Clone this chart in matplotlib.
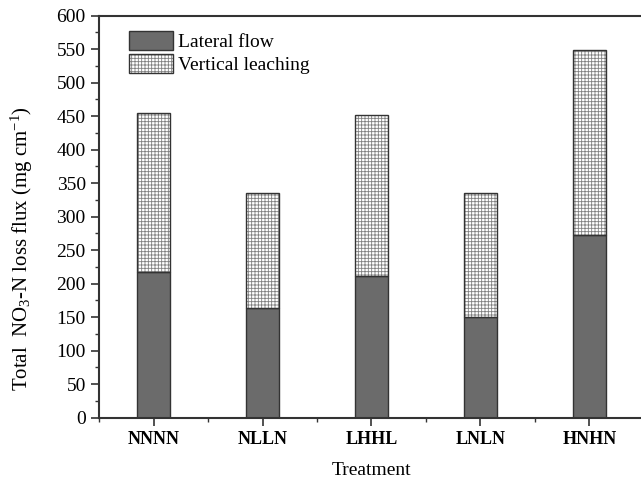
import numpy as np
import matplotlib
matplotlib.use("Agg")
import matplotlib.pyplot as plt
from matplotlib.patches import Patch

treatments = ["NNNN", "NLLN", "LHHL", "LNLN", "HNHN"]
lateral = [217, 163, 211, 150, 272]
vertical = [238, 173, 240, 185, 277]

plt.rcParams['font.family'] = ['Liberation Serif', 'DejaVu Serif']
plt.rcParams['mathtext.fontset'] = 'custom'
plt.rcParams['mathtext.rm'] = 'Liberation Serif'
plt.rcParams['mathtext.it'] = 'Liberation Serif:italic'
plt.rcParams['hatch.linewidth'] = 0.6

fig = plt.figure(figsize=(6.41, 4.83), dpi=100)
ax = fig.add_axes([99/641, 1 - 417.7/483, 545/641, (417.7 - 15.6)/483])

x = np.arange(1, len(treatments) + 1)
w = 0.30

ax.bar(x, lateral, w, color='#6b6b6b', edgecolor='#333333', linewidth=1.0,
       label='Lateral flow', zorder=2)
ax.bar(x, vertical, w, bottom=lateral, color='white', edgecolor='#808080',
       hatch='+++++', linewidth=0, zorder=2)
ax.bar(x, vertical, w, bottom=lateral, fill=False, edgecolor='#333333',
       linewidth=1.0, zorder=3)

# legend patches
h1 = Patch(facecolor='#6b6b6b', edgecolor='#333333', linewidth=1.0)
h2 = Patch(facecolor='white', edgecolor='#808080', hatch='+++++', linewidth=0)
h2b = Patch(fill=False, edgecolor='#333333', linewidth=1.0)
ax.legend([h1, (h2, h2b)], ['Lateral flow', 'Vertical leaching'],
          loc='upper left', bbox_to_anchor=(0.055, 0.962), frameon=False,
          fontsize=14, handlelength=2.27, handleheight=1.13,
          handletextpad=0.25, labelspacing=0.15, borderaxespad=0, borderpad=0)

ax.set_xlim(0.5, 5.5)
ax.set_ylim(0, 600)
ax.set_yticks(np.arange(0, 601, 50))
ax.set_yticks(np.arange(0, 601, 25), minor=True)
ax.set_xticks(x)
ax.set_xticks(np.arange(0.5, 5.6, 1), minor=True)
ax.set_xticklabels(treatments, fontweight='bold', fontsize=13)
ax.tick_params(axis='y', labelsize=14)
ax.tick_params(which='major', direction='out', length=6, width=1.2, color='#333333')
ax.tick_params(which='minor', direction='out', length=3, width=1.0, color='#333333')
for s in ax.spines.values():
    s.set_linewidth(1.5)
    s.set_color('#333333')

ax.set_xlabel('Treatment', fontsize=14, labelpad=10)
ax.set_ylabel('Total  NO$_3$-N loss flux (mg cm$^{-1}$)', fontsize=15)
ax.yaxis.set_label_coords(-0.118, 0.422)

fig.savefig('out.png', dpi=100)
